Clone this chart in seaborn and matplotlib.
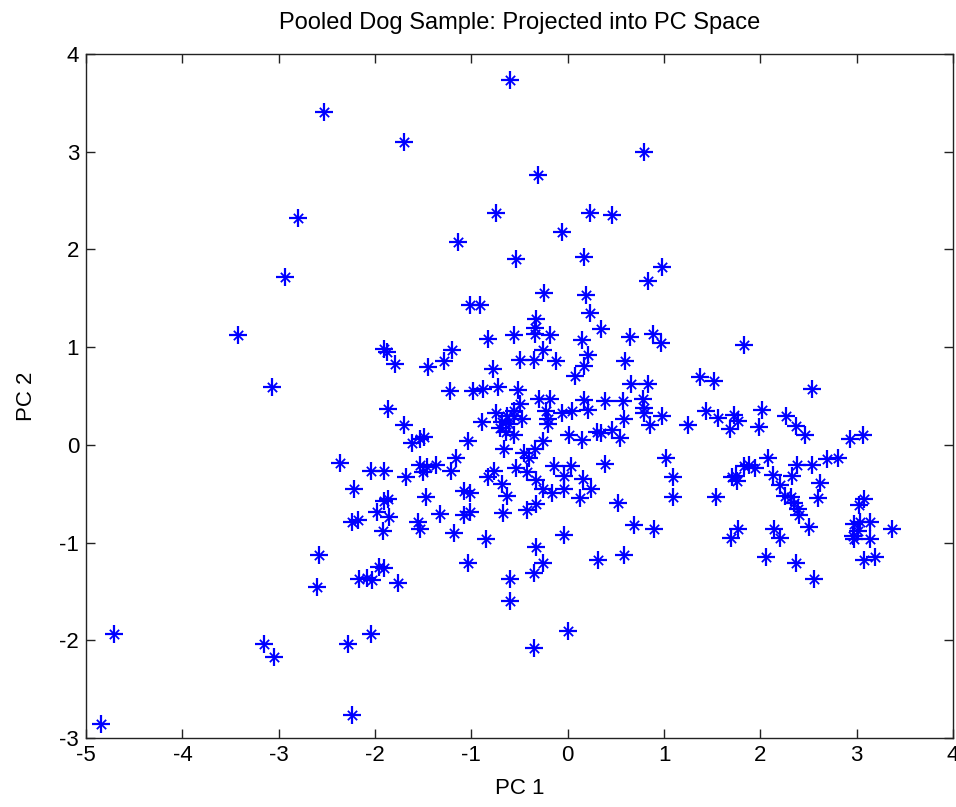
import matplotlib
matplotlib.use("Agg")
import matplotlib.pyplot as plt
import seaborn as sns
import pandas as pd

pc1 = [
    -2.53, -2.80, -2.93,
    -0.60, -1.70, 0.79, -0.31, -0.74, 0.23, 0.46, -0.06, -1.14, -0.54, 0.17, 0.98, 0.83,
    -3.42, -3.07, -1.91, -1.88, -2.36, -2.04, -1.91, -2.22, -1.91, -1.87, -1.98,
    -0.25, 0.19, -1.01, -0.91, 0.23, -0.33, 0.34, -0.34, -0.34, -0.56, -0.18, -0.83, 0.15, 0.65, 0.88, 0.97,
    -1.20, -1.28, -0.26, -0.35, -0.50, -0.12, 0.21, 0.17, 0.08, 0.59, -1.79, -1.45, -0.78,
    -1.22, -0.98, -0.88, -0.72, -0.52, 0.66, 0.83,
    -0.30, -0.18, 0.17, 0.39, 0.57, 0.78, -0.50, -1.87, -0.56, -0.23, -0.06, 0.04, 0.21, 0.79, 0.79, 0.98, -0.75,
    -0.63, -0.56, -0.47, -0.68, -0.61, -0.70, -0.64, -0.56,
    -0.89, -0.21, -0.21, 0.58, 0.85, -1.70, -1.49, -1.53, -1.62, -1.04, -0.66, 0.01, 0.15, 0.30, 0.34, 0.46, 0.54,
    -0.26, -0.34, -0.45, -0.40, -1.16, 1.02,
    -1.53, -1.46, -1.37, -1.21, -1.68, -1.50, -0.77, -0.83, -0.54, -0.42, -0.14, 0.03, -0.04, 0.39, -0.33, -0.68, 0.16,
    -0.26, -0.16, -0.04, 0.24, -1.08, -1.01, -1.47, -0.63, 0.13, 0.52, -0.33, -0.42, -1.33, -0.67,
    -1.86, -1.92, -1.55, -1.53, -1.08, -1.01, -1.18, -0.85, -0.04, 0.69, 0.90, -0.33, -0.26, -0.35, -1.04,
    0.31, 0.58, -1.91, -1.76, -0.60, -0.60, 0.00, -0.35,
    -4.84, -4.71, -3.15, -3.05, -2.24, -2.28, -2.04, -2.58, -2.60, -2.24, -2.18, -2.17, -2.08, -2.03, -1.96,
    1.83, 1.37, 1.52, 2.54, 1.43, 1.56, 1.73, 1.77, 1.68, 2.02, 1.98, 1.25, 2.27, 2.37, 2.46, 2.93, 3.06,
    1.09, 1.09, 1.54, 2.08, 1.83, 1.88, 1.94, 1.70, 1.75, 1.76, 2.13, 2.20, 2.33, 2.38, 2.54, 2.69, 2.81,
    2.62, 2.60, 2.26, 2.32, 2.35, 2.39, 3.02, 3.08,
    2.40, 1.69, 1.77, 2.14, 2.20, 2.50, 2.06, 2.37, 2.56, 2.97, 3.03, 2.96, 2.97, 3.01, 3.14, 3.14, 3.37, 3.07, 3.19,
]
pc2 = [
    3.41, 2.32, 1.72,
    3.73, 3.10, 3.00, 2.76, 2.37, 2.37, 2.35, 2.18, 2.08, 1.90, 1.92, 1.82, 1.68,
    1.12, 0.59, 0.98, 0.95, -0.19, -0.27, -0.27, -0.45, -0.57, -0.55, -0.69,
    1.55, 1.53, 1.43, 1.43, 1.35, 1.29, 1.19, 1.20, 1.13, 1.12, 1.12, 1.08, 1.07, 1.10, 1.13, 1.04,
    0.97, 0.86, 0.97, 0.87, 0.87, 0.86, 0.92, 0.81, 0.71, 0.86, 0.83, 0.80, 0.78,
    0.55, 0.55, 0.57, 0.59, 0.56, 0.62, 0.62,
    0.47, 0.47, 0.46, 0.45, 0.45, 0.47, 0.42, 0.37, 0.35, 0.35, 0.33, 0.35, 0.36, 0.38, 0.33, 0.30, 0.33,
    0.30, 0.30, 0.26, 0.23, 0.21, 0.17, 0.13, 0.10,
    0.23, 0.26, 0.21, 0.26, 0.20, 0.20, 0.08, 0.06, 0.02, 0.04, -0.04, 0.10, 0.05, 0.13, 0.12, 0.15, 0.07,
    0.04, -0.04, -0.08, -0.13, -0.13, -0.13,
    -0.21, -0.23, -0.21, -0.27, -0.33, -0.28, -0.27, -0.33, -0.24, -0.28, -0.22, -0.22, -0.32, -0.20, -0.36, -0.40, -0.35,
    -0.45, -0.49, -0.45, -0.45, -0.47, -0.49, -0.53, -0.52, -0.54, -0.59, -0.61, -0.67, -0.71, -0.70,
    -0.74, -0.88, -0.79, -0.86, -0.72, -0.69, -0.90, -0.96, -0.92, -0.82, -0.86, -1.05, -1.21, -1.31, -1.21,
    -1.18, -1.13, -1.26, -1.41, -1.37, -1.60, -1.90, -2.08,
    -2.86, -1.94, -2.04, -2.17, -2.76, -2.04, -1.94, -1.13, -1.45, -0.79, -0.77, -1.37, -1.36, -1.38, -1.25,
    1.02, 0.69, 0.65, 0.57, 0.35, 0.28, 0.31, 0.24, 0.16, 0.36, 0.18, 0.20, 0.30, 0.19, 0.10, 0.06, 0.10,
    -0.33, -0.53, -0.53, -0.13, -0.22, -0.21, -0.24, -0.33, -0.32, -0.37, -0.31, -0.41, -0.32, -0.21, -0.21, -0.14, -0.13,
    -0.39, -0.54, -0.52, -0.53, -0.59, -0.66, -0.62, -0.55,
    -0.72, -0.95, -0.86, -0.86, -0.95, -0.84, -1.15, -1.21, -1.37, -0.81, -0.79, -0.93, -0.96, -0.88, -0.79, -0.96, -0.86, -1.18, -1.15,
]

x_ticks = [-5, -4, -3, -2, -1, 0, 1, 2, 3, 4]
y_ticks = [-3, -2, -1, 0, 1, 2, 3, 4]

df = pd.DataFrame({"PC 1": pc1, "PC 2": pc2})

sns.set_theme(style="white")
plt.rcParams["font.family"] = ["Liberation Sans", "DejaVu Sans"]
fs = 16

fig = plt.figure(figsize=(9.56, 8.07), dpi=100)
ax = fig.add_axes([0.090, 0.0855, 0.907, 0.8475])

sns.scatterplot(data=df, x="PC 1", y="PC 2", marker="+", s=185, color="#0000ff",
                linewidth=1.6, ax=ax, legend=False, zorder=3)
sns.scatterplot(data=df, x="PC 1", y="PC 2", marker="x", s=45, color="#0000ff",
                linewidth=1.3, ax=ax, legend=False, zorder=3)

ax.set_xlim(-5, 4)
ax.set_ylim(-3, 4)
ax.set_xticks(x_ticks)
ax.set_yticks(y_ticks)
ax.set_xticklabels([str(t) for t in x_ticks])
ax.set_yticklabels([str(t) for t in y_ticks])
ax.tick_params(direction="in", length=6.5, width=1.0, color="#222222",
               top=True, right=True, bottom=True, left=True,
               labelsize=fs, pad=5, labelcolor="black")
for sp in ax.spines.values():
    sp.set_visible(True)
    sp.set_color("#222222")
    sp.set_linewidth(1.0)

ax.set_xlabel("PC 1", fontsize=fs, color="black", labelpad=9)
ax.set_ylabel("PC 2", fontsize=fs, color="black", labelpad=16)
ax.set_title("Pooled Dog Sample: Projected into PC Space", fontsize=17, color="black", pad=18)
ax.grid(False)

fig.savefig("out.png", dpi=100, facecolor="white")
